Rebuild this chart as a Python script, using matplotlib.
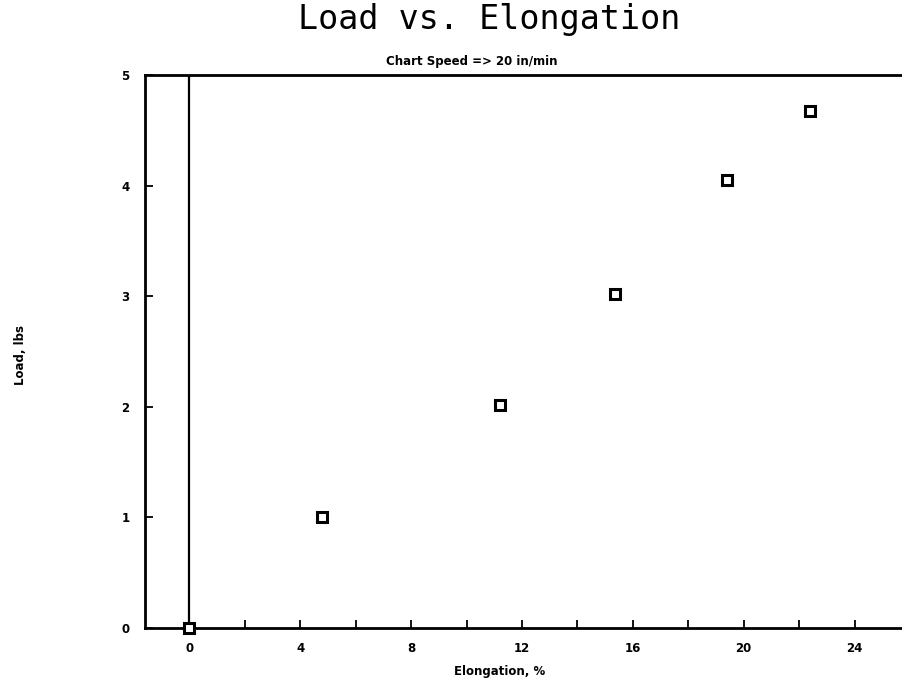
import numpy as np
from matplotlib import pyplot as plt
from matplotlib.ticker import MultipleLocator

# elongation (%) and load (lbs) readings
elongation = [0.0, 4.8, 11.2, 15.35, 19.4, 22.4]
load = [0.0, 1.0, 2.02, 3.02, 4.05, 4.67]

fig = plt.figure(figsize=(9.02, 6.88), dpi=100)
W, H = 902, 688
ax = fig.add_axes([145 / W, 60 / H, 765 / W, 553 / H])

ax.plot(elongation, load, linestyle="none", marker="s", markersize=7.5,
        markerfacecolor="white", markeredgecolor="black", markeredgewidth=2.2,
        clip_on=False, zorder=3)
ax.axvline(0, color="black", linewidth=1.6, zorder=2)

ax.set_xlim(-1.6, 26)
ax.set_ylim(0, 5)
ax.xaxis.set_major_locator(MultipleLocator(4))
ax.xaxis.set_minor_locator(MultipleLocator(2))
ax.yaxis.set_major_locator(MultipleLocator(1))

ax.tick_params(axis="both", which="both", direction="in", length=6,
               width=1.3, labelsize=8.5)
ax.tick_params(axis="x", pad=10)
ax.tick_params(axis="y", pad=11)
for lbl in ax.get_xticklabels() + ax.get_yticklabels():
    lbl.set_fontweight("bold")
for s in ax.spines.values():
    s.set_linewidth(2)

fig.text(489 / W, 1 - 20 / H, "Load vs. Elongation", ha="center", va="center",
         fontsize=24, family="DejaVu Sans Mono")
fig.text(472 / W, 1 - 62 / H, "Chart Speed => 20 in/min", ha="center",
         va="center", fontsize=8.5, fontweight="bold")
fig.text(500 / W, 1 - 672 / H, "Elongation, %", ha="center", va="center",
         fontsize=8.5, fontweight="bold")
fig.text(20 / W, 1 - 355 / H, "Load, lbs", ha="center", va="center",
         rotation=90, fontsize=8.5, fontweight="bold")

fig.savefig("out.png", dpi=100)
